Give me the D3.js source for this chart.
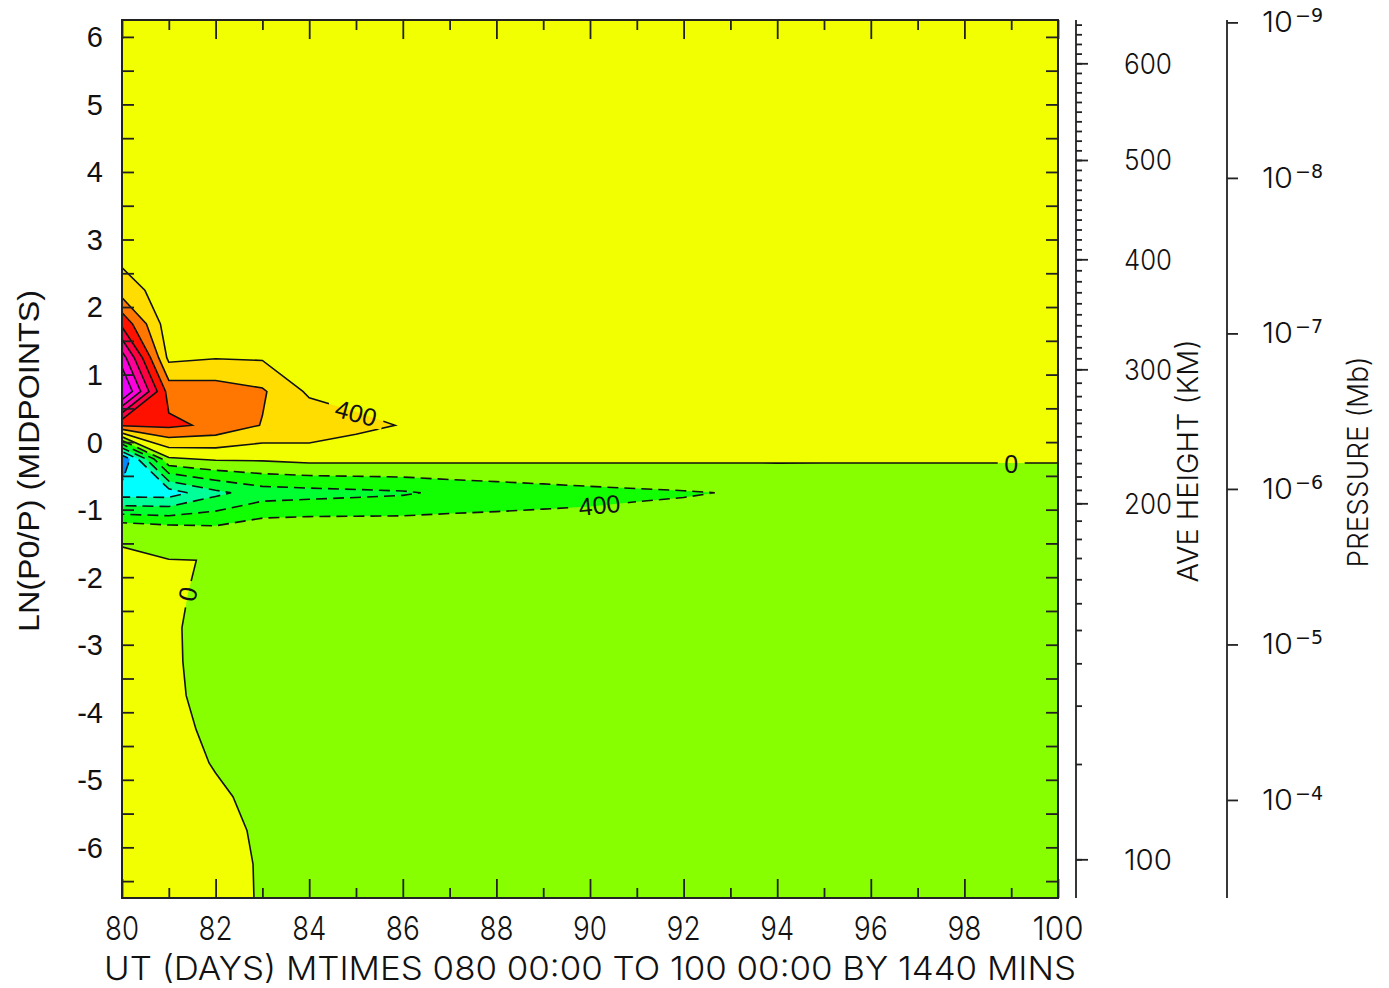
<!DOCTYPE html>
<html><head><meta charset="utf-8">
<script src="https://cdn.jsdelivr.net/npm/d3@7"></script>
<style>body{margin:0;background:#fff}</style>
</head><body><svg id="chart" width="1389" height="988"></svg>
<script>
// ---------------- data ----------------
const days = [80,81,82,83,84,85,86,87,88,89,90,91,92,93,94,95,96,97,98,99,100];
const zLevels = [6.25,5.75,5.25,4.75,4.25,3.75,3.25,2.75,2.25,1.75,1.25,0.75,0.25,-0.25,-0.75,-1.25,-1.75,-2.25,-2.75,-3.25,-3.75,-4.25,-4.75,-5.25,-5.75,-6.25,-6.75];
// field values, one row per zLevel (top to bottom), one column per day
const fieldRows = [
 [150,150,150,150,150,150,150,150,150,150,150,150,150,150,150,150,150,150,150,150,150],
 [150,150,150,150,150,150,150,150,150,150,150,150,150,150,150,150,150,150,150,150,150],
 [150,150,150,150,150,150,150,150,150,150,150,150,150,150,150,150,150,150,150,150,150],
 [150,150,150,150,150,150,150,150,150,150,150,150,150,150,150,150,150,150,150,150,150],
 [150,150,150,150,150,150,150,150,150,150,150,150,150,150,150,150,150,150,150,150,150],
 [150,150,150,150,150,150,150,150,150,150,150,150,150,150,150,150,150,150,150,150,150],
 [160,150,150,150,150,150,150,150,150,150,150,150,150,150,150,150,150,150,150,150,150],
 [300,150,150,150,150,150,150,150,150,150,150,150,150,150,150,150,150,150,150,150,150],
 [600,190,150,150,150,150,150,150,150,150,150,150,150,150,150,150,150,150,150,150,150],
 [1500,160,150,150,150,150,150,150,150,150,150,150,150,150,150,150,150,150,150,150,150],
 [2600,300,380,360,200,160,150,150,150,150,150,150,150,150,150,150,150,150,150,150,150],
 [3300,1043,1000,850,330,250,170,150,150,150,150,150,150,150,150,150,150,150,150,150,150],
 [1250,1290,1110,780,700,500,380,250,150,150,150,150,150,150,150,150,150,150,150,150,150],
 [-2400,-60,50,60,130,122,116,98,87,78,69,63,58,52,44,38,34,34,34,34,34],
 [-1800,-1800,-1300,-1000,-950,-900,-850,-720,-640,-570,-510,-465,-430,-385,-320,-280,-250,-250,-250,-250,-250],
 [-225,-330,-380,-200,-170,-180,-190,-200,-210,-220,-240,-220,-215,-200,-200,-200,-200,-200,-200,-200,-200],
 [150,10,-7,-150,-150,-150,-150,-150,-150,-150,-150,-150,-150,-150,-150,-150,-150,-150,-150,-150,-150],
 [150,69,-100,-150,-150,-150,-150,-150,-150,-150,-150,-150,-150,-150,-150,-150,-150,-150,-150,-150,-150],
 [150,39,-100,-150,-150,-150,-150,-150,-150,-150,-150,-150,-150,-150,-150,-150,-150,-150,-150,-150,-150],
 [150,43,-100,-150,-150,-150,-150,-150,-150,-150,-150,-150,-150,-150,-150,-150,-150,-150,-150,-150,-150],
 [150,53,-90,-150,-150,-150,-150,-150,-150,-150,-150,-150,-150,-150,-150,-150,-150,-150,-150,-150,-150],
 [150,83,-60,-150,-150,-150,-150,-150,-150,-150,-150,-150,-150,-150,-150,-150,-150,-150,-150,-150,-150],
 [150,154,-25,-150,-150,-150,-150,-150,-150,-150,-150,-150,-150,-150,-150,-150,-150,-150,-150,-150,-150],
 [160,170,59,-100,-150,-150,-150,-150,-150,-150,-150,-150,-150,-150,-150,-150,-150,-150,-150,-150,-150],
 [170,190,122,-60,-120,-120,-120,-120,-120,-120,-120,-120,-120,-120,-120,-120,-120,-120,-120,-120,-120],
 [180,200,160,-40,-100,-100,-100,-100,-100,-100,-100,-100,-100,-100,-100,-100,-100,-100,-100,-100,-100],
 [190,210,182,-40,-100,-100,-100,-100,-100,-100,-100,-100,-100,-100,-100,-100,-100,-100,-100,-100,-100]
];
const thresholds = [-2000,-1600,-1200,-800,-400,0,400,800,1200,1600,2000,2400,2800];
const bandColors = ['#0088ff','#00ffff','#00ff99','#00ff30','#11ff00','#88ff00','#f2ff00','#ffdd00','#ff7700','#ff1100','#ff0040','#ff0099','#ff00e0','#f000ff'];

const yTickMinor = [-6.5,-6,-5.5,-5,-4.5,-4,-3.5,-3,-2.5,-2,-1.5,-1,-0.5,0,0.5,1,1.5,2,2.5,3,3.5,4,4.5,5,5.5,6];
const yTickLabels = [-6,-5,-4,-3,-2,-1,0,1,2,3,4,5,6];
const xTickMajor = [80,82,84,86,88,90,92,94,96,98,100];
const xTickMinor = [81,83,85,87,89,91,93,95,97,99];

const heightKm = [100,110,120,130,140,150,160,170,180,190,200,300,400,500,600];
const heightZ  = [-6.177,-4.766,-3.902,-3.275,-2.782,-2.386,-2.031,-1.716,-1.434,-1.163,-0.906,1.078,2.707,4.177,5.609];
const heightLabels = [100,200,300,400,500,600];
const p0 = 5e-7;
const pressureTicks = [1e-9,1e-8,1e-7,1e-6,1e-5,1e-4];
const pressureExp = ['\u22129','\u22128','\u22127','\u22126','\u22125','\u22124'];

const contourLabels = [
  {text:'400', day:85.0, z:0.43, angle:15},
  {text:'400', day:90.2, z:-0.93, angle:-6},
  {text:'0',   day:99.0, z:-0.33, angle:0},
  {text:'0',   day:81.4, z:-2.25, angle:-78}
];

const xTitle = 'UT (DAYS) MTIMES 080 00:00 TO 100 00:00 BY 1440 MINS';
const yTitle = 'LN(P0/P) (MIDPOINTS)';

// ---------------- drawing ----------------
const W = 1389, H = 988;
const svg = d3.select('#chart');
svg.append('rect').attr('width',W).attr('height',H).attr('fill','#fff');

const x = d3.scaleLinear().domain([80,100]).range([122,1058]);
const y = d3.scaleLinear().domain([-6.75,6.25]).range([898,20]);
const thin = "Inter, 'DejaVu Sans', sans-serif";
const thinW = 300;
const ink = '#111';

const defs = svg.append('defs');
defs.append('clipPath').attr('id','plotClip').append('rect')
  .attr('x',x(80)).attr('y',y(6.25)).attr('width',x(100)-x(80)).attr('height',y(-6.75)-y(6.25));

// contour computation
const nx = days.length, ny = zLevels.length;
const rowsAsc = fieldRows.slice().reverse();
const zAsc = zLevels.slice().reverse();
const values = [].concat(...rowsAsc);
const contours = d3.contours().size([nx, ny]).thresholds(thresholds)(values);
const gx = d3.scaleLinear().domain([0.5, nx-0.5]).range([days[0], days[nx-1]]);
const gz = d3.scaleLinear().domain([0.5, ny-0.5]).range([zAsc[0], zAsc[ny-1]]);
const proj = d3.geoTransform({point: function(px,py){ this.stream.point(x(gx(px)), y(gz(py))); }});
const path = d3.geoPath(proj);

const plot = svg.append('g').attr('clip-path','url(#plotClip)');
plot.append('rect').attr('x',x(80)).attr('y',y(6.25)).attr('width',x(100)-x(80)).attr('height',y(-6.75)-y(6.25))
  .attr('fill',bandColors[0]);
plot.selectAll('path.fill').data(contours).join('path').attr('class','fill')
  .attr('d',path).attr('fill',(d,i)=>bandColors[i+1]).attr('stroke','none');

// label mask
const mask = defs.append('mask').attr('id','labelMask').attr('maskUnits','userSpaceOnUse')
  .attr('x',0).attr('y',0).attr('width',W).attr('height',H);
mask.append('rect').attr('width',W).attr('height',H).attr('fill','#fff');
mask.selectAll('rect.hole').data(contourLabels).join('rect').attr('class','hole')
  .attr('x',d=>-d.text.length*7.5-6).attr('y',-10).attr('width',d=>d.text.length*15+12).attr('height',20)
  .attr('transform',d=>`translate(${x(d.day)},${y(d.z)}) rotate(${d.angle})`).attr('fill','#000');

const lines = plot.append('g').attr('mask','url(#labelMask)');
lines.selectAll('path').data(contours).join('path')
  .attr('d',path).attr('fill','none').attr('stroke','#111').attr('stroke-width',1.6)
  .attr('stroke-dasharray',d=>d.value<0?'11,6':null);

plot.selectAll('text.clab').data(contourLabels).join('text').attr('class','clab')
  .attr('transform',d=>`translate(${x(d.day)},${y(d.z)}) rotate(${d.angle})`)
  .attr('text-anchor','middle').attr('dy','0.36em')
  .attr('font-family',"'Liberation Sans', Arial, sans-serif").attr('font-size',25).attr('fill','#111')
  .text(d=>d.text);

// frame
svg.append('rect').attr('x',x(80)).attr('y',y(6.25)).attr('width',x(100)-x(80)).attr('height',y(-6.75)-y(6.25))
  .attr('fill','none').attr('stroke','#222').attr('stroke-width',2);

function styleAxis(g){ g.select('.domain').remove(); g.selectAll('line').attr('stroke','#222').attr('stroke-width',1.8); g.selectAll('text').remove(); }

svg.append('g').attr('transform',`translate(${x(80)},0)`).call(d3.axisRight(y).tickValues(yTickMinor).tickSize(12)).call(styleAxis);
svg.append('g').attr('transform',`translate(${x(100)},0)`).call(d3.axisLeft(y).tickValues(yTickMinor).tickSize(12)).call(styleAxis);
svg.append('g').attr('transform',`translate(0,${y(-6.75)})`).call(d3.axisTop(x).tickValues(xTickMajor).tickSize(19)).call(styleAxis);
svg.append('g').attr('transform',`translate(0,${y(-6.75)})`).call(d3.axisTop(x).tickValues(xTickMinor).tickSize(10)).call(styleAxis);
svg.append('g').attr('transform',`translate(0,${y(6.25)})`).call(d3.axisBottom(x).tickValues(xTickMajor).tickSize(19)).call(styleAxis);
svg.append('g').attr('transform',`translate(0,${y(6.25)})`).call(d3.axisBottom(x).tickValues(xTickMinor).tickSize(10)).call(styleAxis);

// left labels
svg.append('g').selectAll('text').data(yTickLabels).join('text')
  .attr('x',103).attr('y',d=>y(d)).attr('dy','0.36em').attr('text-anchor','end')
  .attr('font-family',"'Liberation Sans', Arial, sans-serif").attr('font-size',29).attr('fill','#111')
  .text(d=>d);
svg.append('text').attr('transform',`translate(39,${461}) rotate(-90)`).attr('text-anchor','middle')
  .attr('font-family',"'Liberation Sans', Arial, sans-serif").attr('font-size',30).attr('fill','#111')
  .attr('textLength',342).attr('lengthAdjust','spacingAndGlyphs').text(yTitle);

// bottom labels
svg.append('g').selectAll('text').data(xTickMajor).join('text')
  .attr('x',d=>x(d)).attr('y',940).attr('text-anchor','middle')
  .attr('font-family',thin).attr('font-weight',thinW).attr('font-size',33).attr('fill',ink)
  .attr('textLength',d=>String(d).length*17).attr('lengthAdjust','spacingAndGlyphs')
  .text(d=>d);
svg.append('text').attr('x',(104+1076)/2).attr('y',980).attr('text-anchor','middle')
  .attr('font-family',thin).attr('font-weight',thinW).attr('font-size',33).attr('fill',ink)
  .attr('textLength',972).attr('lengthAdjust','spacingAndGlyphs').text(xTitle);

// height axis
const hToY = d3.scaleLinear().domain(heightKm).range(heightZ.map(y));
const hTicks = d3.range(100, 700, 10).filter(h => hToY(h) >= 20);
const hx = 1076;
svg.append('line').attr('x1',hx).attr('x2',hx).attr('y1',20).attr('y2',898).attr('stroke','#222').attr('stroke-width',1.8);
svg.append('g').attr('transform',`translate(${hx},0)`)
  .call(d3.axisRight(hToY).tickValues(hTicks).tickSize(6)).call(styleAxis);
svg.append('g').attr('transform',`translate(${hx},0)`)
  .call(d3.axisRight(hToY).tickValues(heightLabels).tickSize(12)).call(styleAxis);
svg.append('g').selectAll('text').data(heightLabels).join('text')
  .attr('x',1124).attr('y',d=>hToY(d)).attr('dy','0.36em')
  .attr('font-family',thin).attr('font-weight',thinW).attr('font-size',29).attr('fill',ink)
  .attr('textLength',48).attr('lengthAdjust','spacingAndGlyphs').text(d=>d);
svg.append('text').attr('transform',`translate(1198,461) rotate(-90)`).attr('text-anchor','middle')
  .attr('font-family',thin).attr('font-weight',thinW).attr('font-size',29).attr('fill',ink)
  .attr('textLength',243).attr('lengthAdjust','spacingAndGlyphs').text('AVE HEIGHT (KM)');

// pressure axis
const pScale = d3.scaleLog().domain([p0*Math.exp(-6.25), p0*Math.exp(6.75)]).range([20,898]);
const px = 1227;
svg.append('line').attr('x1',px).attr('x2',px).attr('y1',20).attr('y2',898).attr('stroke','#222').attr('stroke-width',1.8);
svg.append('g').attr('transform',`translate(${px},0)`)
  .call(d3.axisRight(pScale).tickValues(pressureTicks).tickSize(11)).call(styleAxis);
const pl = svg.append('g').selectAll('g').data(pressureTicks).join('g')
  .attr('transform',d=>`translate(1262,${pScale(d)})`);
pl.append('text').attr('x',0).attr('y',10).attr('font-family',thin).attr('font-weight',thinW).attr('font-size',29).attr('fill',ink)
  .attr('textLength',31).attr('lengthAdjust','spacingAndGlyphs').text('10');
pl.append('text').attr('x',33).attr('y',0).attr('font-family',"'DejaVu Sans', sans-serif").attr('font-size',19).attr('fill',ink)
  .text((d,i)=>pressureExp[i]);
svg.append('text').attr('transform',`translate(1368,462) rotate(-90)`).attr('text-anchor','middle')
  .attr('font-family',thin).attr('font-weight',thinW).attr('font-size',29).attr('fill',ink)
  .attr('textLength',211).attr('lengthAdjust','spacingAndGlyphs').text('PRESSURE (Mb)');
</script></body></html>
